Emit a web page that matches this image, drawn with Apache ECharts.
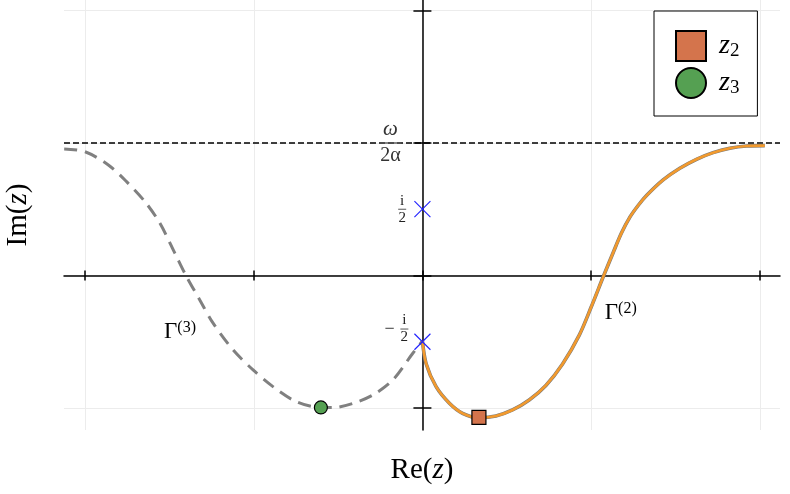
<!DOCTYPE html>
<html><head><meta charset="utf-8">
<script src="https://cdn.jsdelivr.net/npm/echarts@6/dist/echarts.min.js"></script>
<style>html,body{margin:0;padding:0;background:#fff}#c{width:790px;height:494px}</style>
</head><body><div id="c"></div>
<script>
// ---- data ----
const xTicks = [-2, -1, 0, 1, 2];
const yTicks = [-1, 0, 1, 2];
const xRange = [-2.125, 2.12];
const yRange = [-1.166, 2.079];
const omegaLevel = 1.0;            // ω / 2α
const gamma3 = [
  [-2.124, 0.955], [-2.0, 0.934], [-1.862, 0.834], [-1.754, 0.708], [-1.645, 0.557],
  [-1.556, 0.394], [-1.467, 0.167], [-1.402, 0.0], [-1.320, -0.185], [-1.241, -0.36],
  [-1.122, -0.562], [-1.004, -0.713], [-0.886, -0.839], [-0.767, -0.94], [-0.649, -0.99],
  [-0.531, -0.997], [-0.412, -0.965], [-0.294, -0.902], [-0.176, -0.789], [-0.057, -0.587],
  [0.0, -0.494]
];
const gamma2 = [
  [0.0, -0.494], [0.022, -0.666], [0.081, -0.839], [0.16, -0.964], [0.238, -1.04],
  [0.337, -1.073], [0.436, -1.06], [0.534, -1.015], [0.633, -0.94], [0.732, -0.83],
  [0.83, -0.67], [0.93, -0.45], [1.0, -0.24], [1.075, 0.0], [1.13, 0.17], [1.18, 0.32],
  [1.23, 0.44], [1.28, 0.53], [1.33, 0.605], [1.427, 0.721], [1.526, 0.809], [1.625, 0.877],
  [1.723, 0.927], [1.822, 0.96], [1.921, 0.977], [2.03, 0.98]
];
const z2 = [[0.335, -1.070]];
const z3 = [[-0.602, -0.996]];
const poles = [[0, 0.5], [0, -0.5]];
const z2Name = 'z₂', z3Name = 'z₃';

// ---- chart ----
const SERIF = '"Liberation Serif", "DejaVu Serif", serif';
const chart = echarts.init(document.getElementById('c'), null, {renderer: 'canvas'});
const tickStyle = {color: '#000', width: 1.5};
const gridStyle = {color: '#ececec', width: 1};

function xAx(pos, main) {
  return {
    type: 'value', min: xRange[0], max: xRange[1], position: pos,
    axisLine: {show: main, onZero: true, onZeroAxisIndex: 0, lineStyle: tickStyle},
    axisTick: {show: true, customValues: xTicks, length: 5, lineStyle: tickStyle},
    axisLabel: {show: false},
    splitLine: {show: main, lineStyle: gridStyle}
  };
}
function yAx(pos, main) {
  return {
    type: 'value', min: yRange[0], max: yRange[1], position: pos,
    axisLine: {show: main, onZero: true, onZeroAxisIndex: 0, lineStyle: tickStyle},
    axisTick: {show: true, customValues: yTicks, length: 9, lineStyle: tickStyle},
    axisLabel: {show: false},
    splitLine: {show: main, lineStyle: gridStyle}
  };
}

const hidden = {color: 'rgba(0,0,0,0)', opacity: 1};
const annotations = [
  {value: [-0.19, omegaLevel], symbol: 'rect', symbolSize: [22, 1.4],
   label: {formatter: '{n|ω}\n{d|2α}'}},
  {value: [-0.12, 0.5], symbol: 'rect', symbolSize: [8, 1],
   label: {formatter: '{a|i}\n{a|2}'}},
  {value: [-0.107, -0.404], symbol: 'rect', symbolSize: [8, 1],
   label: {formatter: '{a|i}\n{a|2}'}},
  {value: [-0.195, -0.404], symbol: 'rect', symbolSize: 1, itemStyle: hidden,
   label: {formatter: '{m|−}'}},
  {value: [-1.437, -0.426], symbol: 'rect', symbolSize: 1, itemStyle: hidden,
   label: {formatter: '{g|Γ}{s|(3)}'}},
  {value: [1.176, -0.283], symbol: 'rect', symbolSize: 1, itemStyle: hidden,
   label: {formatter: '{g|Γ}{s|(2)}'}}
];

chart.setOption({
  animation: false,
  backgroundColor: '#fff',
  grid: {left: 64, right: 10, top: 0, bottom: 64, containLabel: false},
  xAxis: [xAx('bottom', true), xAx('top', false)],
  yAxis: [yAx('left', true), yAx('right', false)],
  legend: {
    data: [z2Name, z3Name], orient: 'vertical', left: 654, top: 11,
    padding: [19, 18, 17, 21], itemWidth: 30, itemHeight: 30, itemGap: 5,
    borderColor: '#000', borderWidth: 1, backgroundColor: '#fff', selectedMode: false,
    formatter: n => n === z2Name ? '{z|z}{s|2}' : '{z|z}{s|3}',
    textStyle: {
      rich: {
        z: {fontFamily: SERIF, fontStyle: 'italic', fontSize: 28, lineHeight: 30, color: '#000', padding: [0, 0, 0, 8]},
        s: {fontFamily: SERIF, fontSize: 19, lineHeight: 30, color: '#000', verticalAlign: 'bottom'}
      }
    }
  },
  graphic: [
    {type: 'text', x: 422, y: 470, z: 10,
     style: {text: '{r|Re(}{i|z}{r|)}', align: 'center', verticalAlign: 'middle',
       rich: {r: {fontFamily: SERIF, fontSize: 29, fill: '#000'}, i: {font: 'italic 29px "Liberation Serif"', fill: '#000'}}}},
    {type: 'text', x: 18, y: 215, rotation: Math.PI / 2, z: 10,
     style: {text: '{r|Im(}{i|z}{r|)}', align: 'center', verticalAlign: 'middle',
       rich: {r: {fontFamily: SERIF, fontSize: 29, fill: '#000'}, i: {font: 'italic 29px "Liberation Serif"', fill: '#000'}}}}
  ],
  series: [
    {type: 'line', name: 'level', data: [[xRange[0], omegaLevel], [xRange[1], omegaLevel]],
     showSymbol: false, silent: true, z: 2,
     lineStyle: {color: '#000', width: 1.4, type: [6, 3]}},
    {type: 'line', name: 'Γ3', data: gamma3, showSymbol: false, smooth: 0.3, z: 3,
     lineStyle: {color: '#808080', width: 3, type: [13, 8]}},
    {type: 'line', name: 'Γ2gray', data: gamma2, showSymbol: false, smooth: 0.3, z: 3,
     lineStyle: {color: '#7a7a7a', width: 3.6}},
    {type: 'line', name: 'Γ2', data: gamma2, showSymbol: false, smooth: 0.3, z: 4,
     lineStyle: {color: '#f29a2e', width: 2.6}},
    {type: 'scatter', name: z2Name, data: z2, symbol: 'rect', symbolSize: 14, z: 6,
     itemStyle: {color: '#d4744c', opacity: 1, borderColor: '#000', borderWidth: 1.2}},
    {type: 'scatter', name: z3Name, data: z3, symbol: 'circle', symbolSize: 13, z: 6,
     itemStyle: {color: '#55a052', opacity: 1, borderColor: '#000', borderWidth: 1.2}},
    {type: 'scatter', name: 'poles', data: poles, symbol: 'path://M0,0L10,10M10,0L0,10',
     symbolSize: 16, z: 7,
     itemStyle: {color: 'none', opacity: 1, borderColor: '#1f1fff', borderWidth: 1.1}},
    {type: 'scatter', name: 'labels', data: annotations, z: 8, silent: true,
     itemStyle: {color: '#555', opacity: 1},
     label: {show: true, position: 'inside', color: '#333',
       rich: {
         n: {fontFamily: SERIF, fontStyle: 'italic', fontSize: 21, lineHeight: 26, color: '#333', align: 'center'},
         d: {fontFamily: SERIF, fontSize: 20, lineHeight: 27, color: '#333', align: 'center'},
         a: {fontFamily: SERIF, fontSize: 15, lineHeight: 17, color: '#222', align: 'center'},
         m: {fontFamily: SERIF, fontSize: 18, color: '#222'},
         g: {fontFamily: SERIF, fontSize: 23, lineHeight: 24, color: '#000'},
         s: {fontFamily: SERIF, fontSize: 16, lineHeight: 24, color: '#000', verticalAlign: 'top'}
       }}}
  ]
});
</script></body></html>
